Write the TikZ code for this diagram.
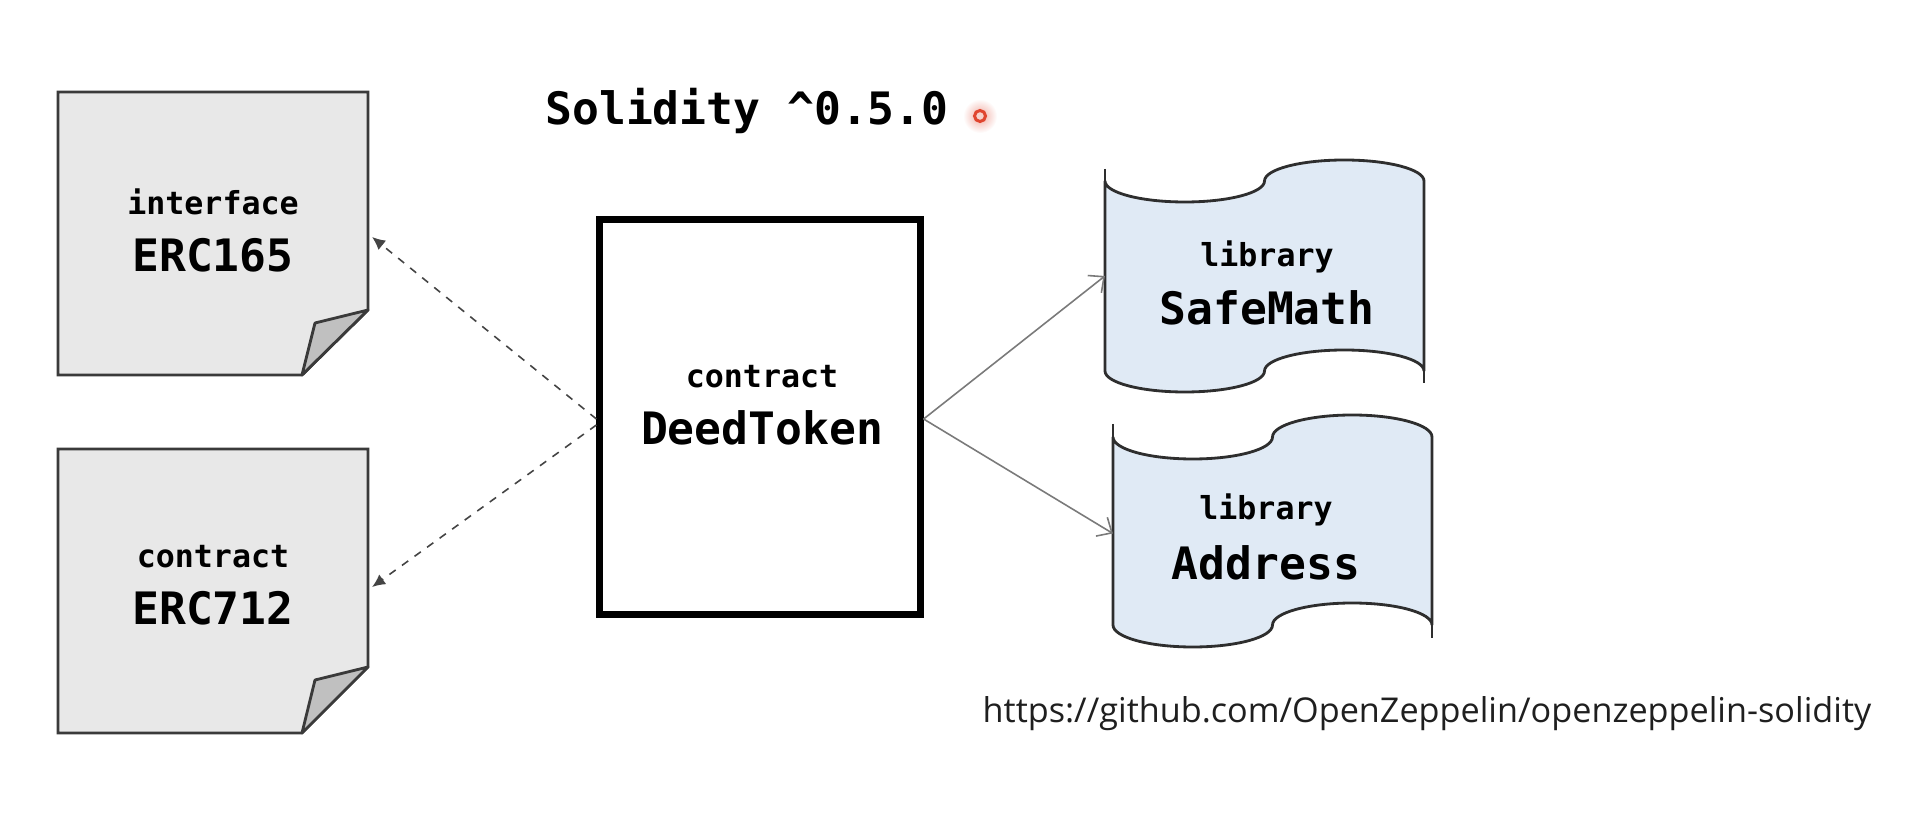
\documentclass[tikz,border=0pt]{standalone}
\usepackage{fontspec}
\usetikzlibrary{arrows.meta,calc}
\newfontfamily\codefont{DejaVu Sans Mono}
\newfontfamily\urlfont{Open Sans}
\definecolor{docfill}{HTML}{E8E8E8}
\definecolor{foldfill}{HTML}{C0C0C0}
\definecolor{docline}{HTML}{3A3A3A}
\definecolor{tapefill}{HTML}{E0EAF5}
\definecolor{tapeline}{HTML}{2E2E2E}
\definecolor{dasharr}{HTML}{444444}
\definecolor{solidarr}{HTML}{7A7A7A}
\definecolor{dotred}{HTML}{E0452F}
\tikzset{
  shapebox/.style={rectangle, draw=none, inner sep=0pt, outer sep=0pt},
  docshape/.style={draw=docline, fill=docfill, line width=0.8pt, line join=miter},
  foldshape/.style={draw=docline, fill=foldfill, line width=0.8pt, line join=round},
  tapeshape/.style={draw=tapeline, fill=tapefill, line width=0.8pt},
  tapeedge/.style={draw=tapeline, line width=0.8pt},
  kwtext/.style={font=\codefont\bfseries\fontsize{9pt}{11pt}\selectfont, anchor=base, inner sep=0pt},
  nametext/.style={font=\codefont\bfseries\fontsize{12.7pt}{15pt}\selectfont, anchor=base, inner sep=0pt},
  dasharrow/.style={draw=dasharr, line width=0.45pt, dash pattern=on 2.2pt off 2.2pt, -{Latex[length=0.13cm,width=0.12cm]}},
  solidarrow/.style={draw=solidarr, line width=0.45pt, -{Straight Barb[length=0.12cm,width=0.22cm]}}
}
\newcommand\drawtape[6]{% L R mt mb A ext
  \pgfmathsetmacro\tpq{(#2-#1)/4}%
  \pgfmathsetmacro\tpkq{0.5523*\tpq}%
  \pgfmathsetmacro\tpkA{0.5523*#5}%
  \path[tapeshape] (#1,#3)
    .. controls (#1,#3+\tpkA) and (#1+\tpq-\tpkq,#3+#5) .. (#1+\tpq,#3+#5)
    .. controls (#1+\tpq+\tpkq,#3+#5) and (#1+2*\tpq,#3+\tpkA) .. (#1+2*\tpq,#3)
    .. controls (#1+2*\tpq,#3-\tpkA) and (#1+3*\tpq-\tpkq,#3-#5) .. (#1+3*\tpq,#3-#5)
    .. controls (#1+3*\tpq+\tpkq,#3-#5) and (#2,#3-\tpkA) .. (#2,#3)
    -- (#2,#4)
    .. controls (#2,#4-\tpkA) and (#1+3*\tpq+\tpkq,#4-#5) .. (#1+3*\tpq,#4-#5)
    .. controls (#1+3*\tpq-\tpkq,#4-#5) and (#1+2*\tpq,#4-\tpkA) .. (#1+2*\tpq,#4)
    .. controls (#1+2*\tpq,#4+\tpkA) and (#1+\tpq+\tpkq,#4+#5) .. (#1+\tpq,#4+#5)
    .. controls (#1+\tpq-\tpkq,#4+#5) and (#1,#4+\tpkA) .. (#1,#4)
    -- cycle;
  \path[tapeedge] (#1,#3-#6) -- (#1,#4);
  \path[tapeedge] (#2,#3) -- (#2,#4+#6);
}
\begin{document}
\begin{tikzpicture}[x=0.01cm,y=-0.01cm]
\useasboundingbox[fill=white] (0,0) rectangle (1906,822);

% ---- document shapes (left) ----
\node[shapebox, minimum width=3.10cm, minimum height=2.83cm, outer sep=0.04cm] (erc165) at (213,233.5) {};
\path[docshape] (58,92) -- (368,92) -- (368,310) -- (302,375) -- (58,375) -- cycle;
\path[foldshape] (302,375) -- (315,323) -- (368,310) -- cycle;
\node[kwtext] (erc165k) at (213,215) {interface};
\node[nametext] (erc165n) at (213,272) {ERC165};

\node[shapebox, minimum width=3.10cm, minimum height=2.84cm, outer sep=0.04cm] (erc712) at (213,591) {};
\path[docshape] (58,449) -- (368,449) -- (368,667) -- (302,733) -- (58,733) -- cycle;
\path[foldshape] (302,733) -- (315,680) -- (368,667) -- cycle;
\node[kwtext] (erc712k) at (213,568) {contract};
\node[nametext] (erc712n) at (213,625) {ERC712};

% ---- central contract ----
\node[rectangle, draw=black, fill=white, line width=0.07cm, minimum width=3.20cm, minimum height=3.94cm, inner sep=0pt] (deed) at (760,417) {};
\node[kwtext] (deedk) at (762,388) {contract};
\node[nametext] (deedn) at (762,445) {DeedToken};

% ---- libraries (tape shapes) ----
\node[shapebox, minimum width=3.19cm, minimum height=2.12cm] (safemath) at (1264.5,276) {};
\drawtape{1105}{1424}{181}{371}{21}{12}
\node[kwtext] (safemathk) at (1267,267) {library};
\node[nametext] (safemathn) at (1267,325) {SafeMath};

\node[shapebox, minimum width=3.19cm, minimum height=2.13cm] (address) at (1272.5,533.5) {};
\drawtape{1113}{1432}{437}{625}{22}{13}
\node[kwtext] (addressk) at (1266,520) {library};
\node[nametext] (addressn) at (1266,580) {Address};

% ---- title ----
\node[nametext] (title) at (747,125) {Solidity \^{}0.5.0};
\shade[inner color=dotred!45, outer color=white] (980,116) circle (0.17cm);
\node[circle, draw=dotred, fill=white!75!dotred, line width=0.03cm, minimum size=0.11cm, inner sep=0pt] (dot) at (980,116) {};

% ---- connectors ----
\draw[dasharrow] ([yshift=-0.02cm]deed.west) -- ([yshift=-0.035cm]erc165.east);
\draw[dasharrow] ([yshift=-0.08cm]deed.west) -- ([yshift=0.04cm]erc712.east);
\draw[solidarrow] ([yshift=-0.02cm]deed.east) -- (safemath.west);
\draw[solidarrow] ([yshift=-0.02cm]deed.east) -- (address.west);

% ---- url ----
\node[anchor=base west, inner sep=0pt, text=black!88, font=\urlfont] (url) at (982,722)
  {\resizebox{8.88cm}{!}{https://github.com/OpenZeppelin/openzeppelin-solidity}};
\end{tikzpicture}
\end{document}
